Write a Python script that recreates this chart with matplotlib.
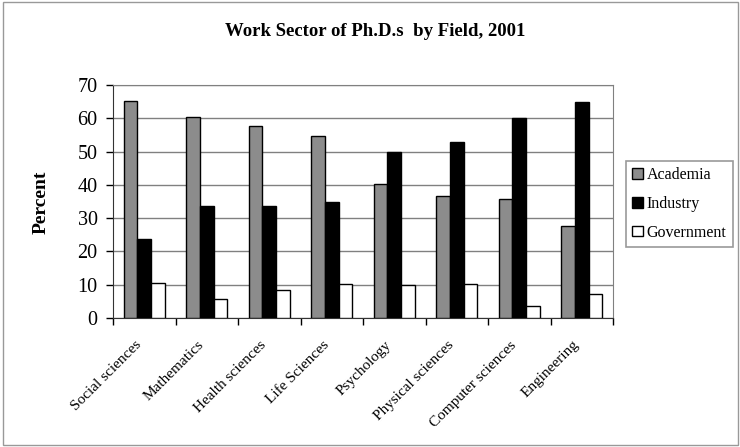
import numpy as np
import matplotlib.pyplot as plt
import matplotlib.transforms as mtransforms
from matplotlib.patches import Rectangle

# Data
fields = ['Social sciences', 'Mathematics', 'Health sciences', 'Life Sciences',
          'Psychology', 'Physical sciences', 'Computer sciences', 'Engineering']
academia = [65.2, 60.3, 57.8, 54.8, 40.2, 36.7, 35.9, 27.7]
industry = [23.8, 33.5, 33.5, 34.7, 50.0, 53.0, 60.0, 64.8]
government = [10.6, 5.6, 8.4, 10.3, 9.8, 10.3, 3.7, 7.3]

plt.rcParams['font.family'] = ['Liberation Serif', 'DejaVu Serif']

fig = plt.figure(figsize=(7.4, 4.47), dpi=100)
ax = fig.add_axes([113/740, 1 - 318/447, 500/740, 233/447])

x = np.arange(len(fields))
w = 0.22
ax.bar(x - w, academia, w, color='#8c8c8c', edgecolor='black', linewidth=1, label='Academia', zorder=3)
ax.bar(x, industry, w, color='black', edgecolor='black', linewidth=1, label='Industry', zorder=3)
ax.bar(x + w, government, w, color='white', edgecolor='black', linewidth=1, label='Government', zorder=3)

ax.set_xlim(-0.5, len(fields) - 0.5)
ax.set_ylim(0, 70)
ax.set_yticks(range(0, 71, 10))
ax.yaxis.grid(True, color='#808080', linewidth=1, zorder=0)
ax.tick_params(axis='y', labelsize=14.5, length=5, direction='out', width=1, pad=6)

# ticks between categories on x
ax.set_xticks(np.arange(-0.5, len(fields), 1.0), minor=False)
ax.set_xticklabels([])
ax.set_xticks(x, minor=True)
ax.set_xticklabels(fields, minor=True, rotation=45, ha='right', va='center',
                   rotation_mode='anchor', fontsize=11)
ax.tick_params(axis='x', which='major', length=5, direction='out', width=1)
ax.tick_params(axis='x', which='minor', length=0, pad=18)
shift = mtransforms.ScaledTranslation(-5/100, 0, fig.dpi_scale_trans)
for lab in ax.xaxis.get_minorticklabels():
    lab.set_transform(lab.get_transform() + shift)

for s in ['top', 'right']:
    ax.spines[s].set_color('#808080')
for s in ['left', 'bottom']:
    ax.spines[s].set_color('#333333')

fig.text(41/740, 1 - 202/447, 'Percent', rotation=90, ha='center', va='center',
         fontsize=14, fontweight='bold')
fig.text(375/740, 1 - 32/447, 'Work Sector of Ph.D.s  by Field, 2001', ha='center', va='center',
         fontsize=13.5, fontweight='bold')

leg = ax.legend(loc='center left', bbox_to_anchor=(626/740, 1 - 204/447), bbox_transform=fig.transFigure,
                frameon=True, fancybox=False, edgecolor='#808080', fontsize=11.5,
                handlelength=0.65, handleheight=0.65, handletextpad=0.25, labelspacing=0.8,
                borderpad=0.4, borderaxespad=0)
leg.get_frame().set_linewidth(1.2)

fig.patches.append(Rectangle((0.004, 0.004), 0.993, 0.992, transform=fig.transFigure,
                             fill=False, edgecolor='#999999', linewidth=1))

fig.savefig('out.png', dpi=100)
